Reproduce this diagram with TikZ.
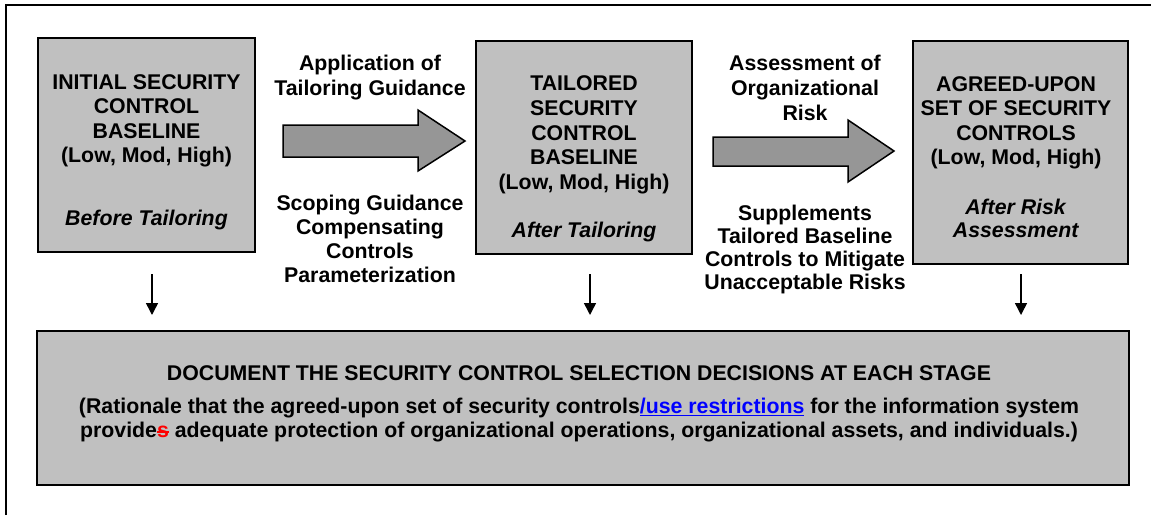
\documentclass[tikz,border=0pt]{standalone}
\usepackage{fontspec}
\setmainfont{Liberation Sans}
\usetikzlibrary{arrows.meta}
\definecolor{boxgray}{RGB}{192,192,192}
\definecolor{arrowgray}{RGB}{150,150,150}
\definecolor{linkblue}{RGB}{0,0,255}
\newcommand\strikered[1]{\setbox0\hbox{#1}\rlap{\color{red}\rule[0.45ex]{\wd0}{1.4pt}}{\color{red}#1}}
\begin{document}
\begin{tikzpicture}[x=1pt,y=-1pt,
  stagebox/.style={draw=black, line width=2pt, fill=boxgray, inner sep=0pt},
  lbl/.style={font=\bfseries\fontsize{21.3}{24.3}\selectfont, align=center, inner sep=0pt, anchor=north},
  bigarrow/.style={draw=black, line width=1.5pt, fill=arrowgray, line join=miter},
  downarrow/.style={draw=black, line width=1.5pt, -{Triangle[length=12pt,width=12pt]}},
  frameline/.style={draw=black, line width=2pt}]
\useasboundingbox (0,0) rectangle (1151,515);
% outer frame (left and top edges only)
\draw[frameline] (6,515) -- (6,5) -- (1151,5);
% stage boxes
\node[stagebox, minimum width=217pt, minimum height=214pt] (b1) at (146.5,145) {};
\node[stagebox, minimum width=216pt, minimum height=213pt] (b2) at (584,147.5) {};
\node[stagebox, minimum width=215pt, minimum height=223pt] (b3) at (1020.5,152.5) {};
\node[stagebox, minimum width=1092pt, minimum height=154pt] (b4) at (583,408) {};
% box texts
\node[lbl] (t1) at (146.5,74.4) {INITIAL SECURITY\\CONTROL\\BASELINE\\(Low, Mod, High)\\[38.7pt]\textit{Before Tailoring}};
\node[lbl] (t2) at (584,75.4) {TAILORED\\[0.5pt]SECURITY\\[0.5pt]CONTROL\\[0.5pt]BASELINE\\[0.5pt](Low, Mod, High)\\[23.5pt]\textit{After Tailoring}};
\node[lbl] (t3) at (1016,76.4) {AGREED-UPON\\[0.2pt]SET OF SECURITY\\[0.2pt]CONTROLS\\[0.2pt](Low, Mod, High)\\[25.2pt]\textit{After Risk}\\[-1pt]\textit{Assessment}};
% big arrows
\draw[bigarrow] (283,125) -- (418,125) -- (418,110) -- (465,141) -- (418,171) -- (418,157) -- (283,157) -- cycle;
\draw[bigarrow] (713,137) -- (848,137) -- (848,120) -- (894,151) -- (848,182) -- (848,166) -- (713,166) -- cycle;
% arrow labels
\node[lbl] (a1top) at (370,54.4) {Application of\\[0.7pt]Tailoring Guidance};
\node[lbl] (a1bot) at (370,194.4) {Scoping Guidance\\[-0.3pt]Compensating\\[-0.3pt]Controls\\[-0.3pt]Parameterization};
\node[lbl] (a2top) at (805,54.4) {Assessment of\\[0.7pt]Organizational\\[0.7pt]Risk};
\node[lbl] (a2bot) at (805,204.4) {Supplements\\[-1pt]Tailored Baseline\\[-1pt]Controls to Mitigate\\[-1pt]Unacceptable Risks};
% bottom box text
\node[lbl] (t4) at (579,365.4) {DOCUMENT THE SECURITY CONTROL SELECTION DECISIONS AT EACH STAGE\\[8.7pt]
(Rationale that the agreed-upon set of security controls{\color{linkblue}\underline{/use restrictions}} for the information system\\
provide\strikered{s} adequate protection of organizational operations, organizational assets, and individuals.)};
% down arrows
\coordinate (d1s) at (152,274); \coordinate (d1e) at (152,315);
\coordinate (d2s) at (590,274); \coordinate (d2e) at (590,315);
\coordinate (d3s) at (1021,274); \coordinate (d3e) at (1021,315);
\draw[downarrow] (d1s) -- (d1e);
\draw[downarrow] (d2s) -- (d2e);
\draw[downarrow] (d3s) -- (d3e);
\end{tikzpicture}
\end{document}
